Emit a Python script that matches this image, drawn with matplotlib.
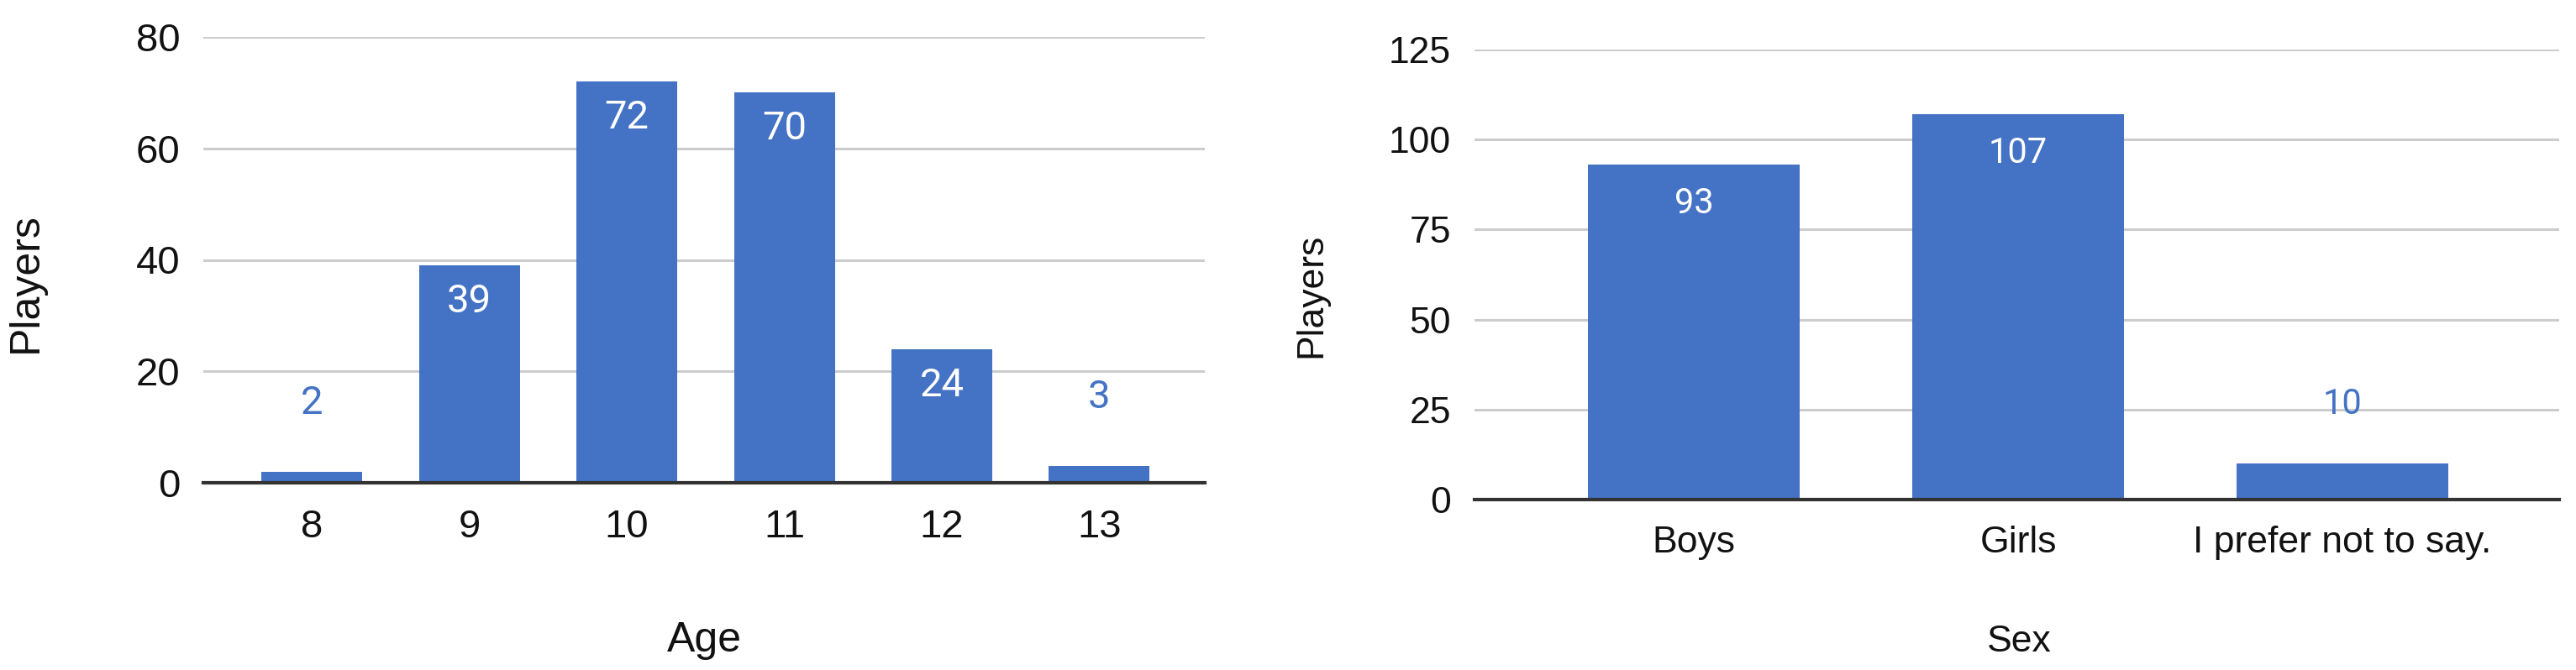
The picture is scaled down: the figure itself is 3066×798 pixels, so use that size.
import matplotlib
matplotlib.use("Agg")
import matplotlib.pyplot as plt

# data
ages = ["8", "9", "10", "11", "12", "13"]
age_players = [2, 39, 72, 70, 24, 3]

sexes = ["Boys", "Girls", "I prefer not to say."]
sex_players = [93, 107, 10]

BLUE = "#4472C4"
W, H = 3066, 798
DPI = 100

plt.rcParams['font.family'] = ['Liberation Sans', 'DejaVu Sans']

fig = plt.figure(figsize=(W / DPI, H / DPI), dpi=DPI)


def px_axes(left, top, right, bottom):
    return fig.add_axes([left / W, 1 - bottom / H, (right - left) / W, (bottom - top) / H])


def bar_panel(ax, cats, vals, ymax, ystep, xlim, width, fs, title_fs, lab_fs, in_off, out_off,
              xlabel, xlab_xy, ylab_xy):
    x = list(range(len(cats)))
    ax.bar(x, vals, width=width, color=BLUE, zorder=3)
    ax.set_xlim(*xlim)
    ax.set_ylim(0, ymax)
    ax.set_yticks(range(0, ymax + 1, ystep))
    ax.set_xticks(x)
    ax.set_xticklabels(cats)
    ax.grid(axis='y', color='#cccccc', linewidth=2.2, zorder=0)
    for s in ['top', 'right', 'left']:
        ax.spines[s].set_visible(False)
    ax.spines['bottom'].set_color('#333333')
    ax.spines['bottom'].set_linewidth(3)
    ax.spines['bottom'].set_zorder(4)
    ax.tick_params(axis='both', length=0, labelsize=fs, colors='#111111')
    ax.tick_params(axis='x', pad=22)
    ax.tick_params(axis='y', pad=20)
    ax.set_ylabel("Players", fontsize=title_fs, color='#111111', va='center')
    ax.yaxis.set_label_coords(*ylab_xy)
    ax.set_xlabel(xlabel, fontsize=title_fs, color='#111111', va='center')
    ax.xaxis.set_label_coords(*xlab_xy)
    for xi, v in zip(x, vals):
        if v >= 0.15 * ymax:
            ax.annotate(str(v), (xi, v), xytext=(0, -in_off), textcoords='offset points',
                        ha='center', va='center', color='white', fontsize=lab_fs,
                        family='Roboto', zorder=5)
        else:
            ax.annotate(str(v), (xi, v), xytext=(0, out_off), textcoords='offset points',
                        ha='center', va='center', color=BLUE, fontsize=lab_fs,
                        family='Roboto', zorder=5)


ax1 = px_axes(242, 44, 1434, 575)
bar_panel(ax1, ages, age_players, 80, 20, (-0.69, 5.67), 0.64, 34, 36, 34, 31, 59,
          "Age", (0.5, -0.354), (-0.177, 0.448))

ax2 = px_axes(1755, 59, 3046, 595)
bar_panel(ax2, sexes, sex_players, 125, 25, (-0.676, 2.668), 0.653, 32, 32, 30, 33, 51,
          "Sex", (0.502, -0.317), (-0.150, 0.453))

fig.savefig("out.png", dpi=DPI, facecolor='white')
